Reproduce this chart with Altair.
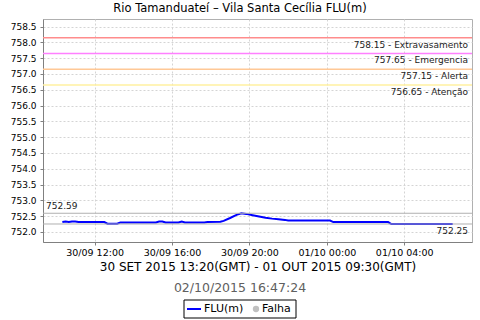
import altair as alt
import pandas as pd

# ---------------- data ----------------
times = [
    "2015-09-30T10:20:00", "2015-09-30T10:30:00", "2015-09-30T10:40:00", "2015-09-30T10:50:00",
    "2015-09-30T11:00:00", "2015-09-30T11:10:00", "2015-09-30T12:30:00", "2015-09-30T12:40:00",
    "2015-09-30T13:10:00", "2015-09-30T13:20:00", "2015-09-30T15:10:00", "2015-09-30T15:20:00",
    "2015-09-30T15:30:00", "2015-09-30T15:40:00", "2015-09-30T16:20:00", "2015-09-30T16:30:00",
    "2015-09-30T16:40:00", "2015-09-30T17:40:00", "2015-09-30T17:50:00", "2015-09-30T18:30:00",
    "2015-09-30T18:40:00", "2015-09-30T19:00:00", "2015-09-30T19:20:00", "2015-09-30T19:35:00",
    "2015-09-30T19:50:00", "2015-09-30T20:10:00", "2015-09-30T20:30:00", "2015-09-30T20:50:00",
    "2015-09-30T21:10:00", "2015-09-30T21:30:00", "2015-09-30T21:50:00", "2015-09-30T22:00:00",
    "2015-10-01T00:10:00", "2015-10-01T00:20:00", "2015-10-01T03:10:00", "2015-10-01T03:20:00",
    "2015-10-01T06:30:00",
]
levels = [
    752.31, 752.33, 752.31, 752.33,
    752.33, 752.31, 752.31, 752.26,
    752.26, 752.30, 752.30, 752.33,
    752.33, 752.30, 752.30, 752.33,
    752.30, 752.30, 752.31, 752.32,
    752.35, 752.44, 752.54, 752.59,
    752.57, 752.53, 752.49, 752.45,
    752.42, 752.40, 752.38, 752.36,
    752.36, 752.31, 752.31, 752.25,
    752.25,
]

thr_values = [758.15, 757.65, 757.15, 756.65]
thr_labels = ["758.15 - Extravasamento", "757.65 - Emergencia", "757.15 - Alerta", "756.65 - Atenção"]
thr_colors = ["#ff8c8c", "#ff80ff", "#ffc896", "#fff0a0"]

max_value = 752.59
last_value = 752.25

y_ticks = [752.0 + 0.5 * i for i in range(14)]
x_tick_hours = [(2015, 9, 30, 12), (2015, 9, 30, 16), (2015, 9, 30, 20), (2015, 10, 1, 0), (2015, 10, 1, 4)]

title_text = "Rio Tamanduateí – Vila Santa Cecília FLU(m)"
period_text = "30 SET 2015 13:20(GMT) - 01 OUT 2015 09:30(GMT)"
stamp_text = "02/10/2015 16:47:24"
legend_labels = ["FLU(m)", "Falha"]

# ---------------- layout ----------------
W, H = 429, 223
FONT = "DejaVu Sans"

df = pd.DataFrame({"t": times, "v": levels})
thr = pd.DataFrame({"v": thr_values, "label": thr_labels, "c": thr_colors})
refs = pd.DataFrame({"v": [max_value, last_value]})
one = pd.DataFrame({"a": [0]})

x_scale = alt.Scale(domain=[alt.DateTime(year=2015, month=9, date=30, hours=9, minutes=20),
                            alt.DateTime(year=2015, month=10, date=1, hours=7, minutes=30)])
y_scale = alt.Scale(domain=[751.68, 758.74], nice=False, zero=False)

x_axis = alt.Axis(
    values=[alt.DateTime(year=a, month=b, date=c, hours=d) for a, b, c, d in x_tick_hours],
    format="%d/%m %H:%M", title=period_text, titleFontSize=12, titleFontWeight="normal",
    titleColor="#000000", titlePadding=5, labelFontSize=9.5, labelColor="#000000",
    tickSize=3, labelPadding=2, domainColor="#808080", tickColor="#808080",
    gridDash=[2, 2], gridColor="#d4d4d4", labelFont=FONT, titleFont=FONT,
)
y_axis = alt.Axis(
    values=y_ticks, format=".1f", title=None, labelFontSize=9, labelColor="#000000",
    tickSize=3, labelPadding=4, domainColor="#808080", tickColor="#808080",
    gridDash=[2, 2], gridColor="#d4d4d4", labelFont=FONT,
)

Y = alt.Y("v:Q", scale=y_scale, axis=y_axis)

line = alt.Chart(df).mark_line(color="#0000ff", strokeWidth=2).encode(
    x=alt.X("t:T", scale=x_scale, axis=x_axis),
    y=Y,
)

ref_rules = alt.Chart(refs).mark_rule(color="#b0b0b0", strokeWidth=1).encode(y=Y)

thr_rules = alt.Chart(thr).mark_rule(strokeWidth=1.5, strokeOpacity=1, opacity=1).encode(
    y=Y,
    stroke=alt.Stroke("c:N", scale=None, legend=None),
)
thr_text = alt.Chart(thr).mark_text(
    align="right", baseline="top", dy=3, fontSize=9, font=FONT, color="#222222"
).encode(
    x=alt.value(W - 4),
    y=Y,
    text="label:N",
)

max_text = alt.Chart(pd.DataFrame({"v": [max_value]})).mark_text(
    align="left", baseline="bottom", dy=-2, fontSize=9, font=FONT, color="#222222"
).encode(x=alt.value(3), y=Y, text=alt.Text("v:Q", format=".2f"))
last_text = alt.Chart(pd.DataFrame({"v": [last_value]})).mark_text(
    align="right", baseline="top", dy=3, fontSize=9, font=FONT, color="#222222"
).encode(x=alt.value(W - 4), y=Y, text=alt.Text("v:Q", format=".2f"))

# title & timestamp (outside the plot area)
title_mark = alt.Chart(one).mark_text(
    fontSize=11.5, font=FONT, color="#000000", baseline="middle", align="center"
).encode(x=alt.value(240 - 43), y=alt.value(9 - 19), text=alt.value(title_text))
stamp_mark = alt.Chart(one).mark_text(
    fontSize=12.5, font=FONT, color="#606060", baseline="middle", align="center"
).encode(x=alt.value(240 - 43), y=alt.value(288 - 19), text=alt.value(stamp_text))

# legend box
lx0, lx1, ly0, ly1 = 184 - 43, 296 - 43, 300 - 19, 318 - 19
legend_box = alt.Chart(one).mark_rect(fill="white", stroke="#000000", strokeWidth=1).encode(
    x=alt.value(lx0), x2=alt.value(lx1), y=alt.value(ly0), y2=alt.value(ly1)
)
legend_line = alt.Chart(one).mark_rule(color="#0000ff", strokeWidth=2).encode(
    x=alt.value(lx0 + 3), x2=alt.value(lx0 + 17), y=alt.value((ly0 + ly1) / 2)
)
legend_t1 = alt.Chart(one).mark_text(align="left", baseline="middle", fontSize=11, font=FONT,
                                     color="#000000").encode(
    x=alt.value(lx0 + 20), y=alt.value((ly0 + ly1) / 2), text=alt.value(legend_labels[0]))
legend_dot = alt.Chart(one).mark_point(filled=True, color="#c0c0c0", size=40, opacity=1).encode(
    x=alt.value(lx0 + 72), y=alt.value((ly0 + ly1) / 2))
legend_t2 = alt.Chart(one).mark_text(align="left", baseline="middle", fontSize=11, font=FONT,
                                     color="#000000").encode(
    x=alt.value(lx0 + 78), y=alt.value((ly0 + ly1) / 2), text=alt.value(legend_labels[1]))

chart = alt.layer(
    line, ref_rules, thr_rules, thr_text, max_text, last_text,
    title_mark, stamp_mark, legend_box, legend_line, legend_t1, legend_dot, legend_t2,
).properties(
    width=W, height=H,
    autosize=alt.AutoSizeParams(type="none"),
    padding={"left": 43, "top": 19, "right": 8, "bottom": 78},
    background="white",
).configure_view(stroke="#b0b0b0")

chart.save("out.html", embed_options={"renderer": "svg", "actions": False})
